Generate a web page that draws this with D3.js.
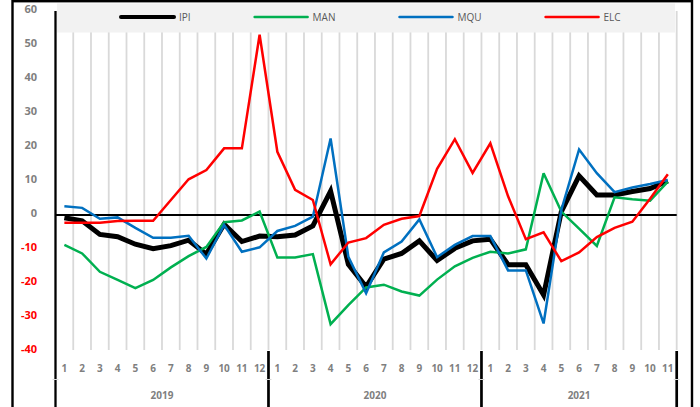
<!DOCTYPE html>
<html>
<head>
<meta charset="utf-8">
<script src="https://cdn.jsdelivr.net/npm/d3@7"></script>
<style>
  body { margin: 0; background: #fff; }
  text { font-family: "Open Sans", "Liberation Sans", sans-serif; }
</style>
</head>
<body>
<div id="chart"></div>
<script>
  // data (monthly change, %)
  const years = ['2019', '2020', '2021'];
  const monthsPerYear = [12, 12, 11];

  const ipi = [-0.8, -1.7, -5.7, -6.4, -8.6, -9.9, -9.0, -7.4, -11.5, -2.7, -7.8, -6.2,
               -6.4, -5.9, -3.2, 7.0, -14.5, -21.1, -13.0, -11.3, -7.6, -13.4, -9.8, -7.6,
               -7.1, -14.6, -14.6, -23.5, 1.0, 11.5, 5.9, 5.9, 6.9, 7.8, 10.0];
  const man = [-8.8, -11.3, -16.7, -19.1, -21.5, -19.1, -15.4, -12.1, -9.4, -2.1, -1.6, 1.0,
               -12.5, -12.5, -11.5, -32.1, -26.5, -21.3, -20.5, -22.5, -23.7, -19.0, -15.1, -12.6,
               -10.8, -11.3, -10.1, 12.3, 1.0, -4.0, -9.1, 5.2, 4.6, 4.2, 9.8];
  const mqu = [2.6, 2.1, -1.1, -0.7, -3.8, -6.7, -6.7, -6.1, -12.8, -2.9, -10.8, -9.5,
               -4.7, -3.2, -0.5, 22.5, -12.3, -23.0, -11.0, -7.8, -1.3, -12.4, -8.8, -6.2,
               -6.2, -16.3, -16.3, -31.9, 1.5, 19.3, 12.3, 6.7, 8.1, 9.1, 10.3];
  const elc = [-2.3, -2.3, -2.3, -1.8, -1.7, -1.7, 4.4, 10.5, 13.2, 19.6, 19.6, 53.0,
               18.6, 7.4, 4.4, -14.5, -8.1, -6.8, -2.9, -1.1, -0.3, 13.6, 22.3, 12.4,
               21.1, 5.5, -7.1, -5.1, -13.6, -11.0, -6.5, -3.8, -2.0, 4.8, 12.0];

  const seriesNames = ['IPI', 'MAN', 'MQU', 'ELC'];
  const yTicks = [60, 50, 40, 30, 20, 10, 0, -10, -20, -30, -40];

  const w = 700;
  const h = 407;

  const plotLeft = 55.5, plotRight = 676.7;
  const plotTop = 11, plotBottom = 351;

  const colors = { IPI: '#000000', MAN: '#00b050', MQU: '#0070c0', ELC: '#ff0000' };
  const widths = { IPI: 5, MAN: 2.5, MQU: 2.5, ELC: 2.5 };
  const values = { IPI: ipi, MAN: man, MQU: mqu, ELC: elc };

  // one entry per month
  const periods = [];
  years.forEach((yr, k) => {
    for (let m = 1; m <= monthsPerYear[k]; m++) periods.push({ year: yr, month: m });
  });

  const x = d3.scaleBand().domain(d3.range(periods.length)).range([plotLeft, plotRight]);
  const y = d3.scaleLinear().domain([-40, 60]).range([plotBottom, plotTop]);
  const cx = i => x(i) + x.bandwidth() / 2;

  const svg = d3.select('#chart')
    .append('svg')
      .attr('width', w)
      .attr('height', h);

  svg.append('rect')
      .attr('width', w)
      .attr('height', h)
      .style('fill', 'white');

  // outer frame
  svg.append('rect')
      .attr('x', 12.5)
      .attr('y', 1.2)
      .attr('width', 679.5)
      .attr('height', h + 20)
      .style('fill', 'none')
      .style('stroke', 'black')
      .style('stroke-width', 2.4);

  // vertical gridlines on category boundaries
  const gridX = d3.range(1, periods.length).map(i => x(i)).concat([plotRight]);
  svg.append('g').selectAll('line')
    .data(gridX)
  .enter().append('line')
      .attr('x1', d => d)
      .attr('x2', d => d)
      .attr('y1', plotTop)
      .attr('y2', plotBottom - 1)
      .style('stroke', '#d9d9d9')
      .style('stroke-width', 1.8);

  // zero line
  svg.append('line')
      .attr('x1', plotLeft)
      .attr('x2', plotRight)
      .attr('y1', y(0))
      .attr('y2', y(0))
      .style('stroke', 'black')
      .style('stroke-width', 2.2);

  // y labels
  svg.append('g').selectAll('text')
    .data(yTicks)
  .enter().append('text')
      .attr('x', 37)
      .attr('y', d => y(d) - 2)
      .attr('dy', '0.35em')
      .attr('text-anchor', 'end')
      .style('font-size', '11px')
      .style('font-weight', 'bold')
      .style('fill', d => d < 0 ? '#ff0000' : '#7f7f7f')
      .text(d => d);

  // left axis line
  svg.append('line')
      .attr('x1', plotLeft)
      .attr('x2', plotLeft)
      .attr('y1', plotTop)
      .attr('y2', h)
      .style('stroke', 'black')
      .style('stroke-width', 2.3);

  // year dividers below the plot
  let start = 0;
  const yearSpans = years.map((yr, k) => {
    const s = { year: yr, x0: x(start), x1: start + monthsPerYear[k] < periods.length ? x(start + monthsPerYear[k]) : plotRight };
    start += monthsPerYear[k];
    return s;
  });

  svg.append('g').selectAll('line')
    .data(yearSpans)
  .enter().append('line')
      .attr('x1', d => d.x1)
      .attr('x2', d => d.x1)
      .attr('y1', plotBottom)
      .attr('y2', h)
      .style('stroke', 'black')
      .style('stroke-width', 2.7);

  // small gray ticks between month and year rows
  svg.append('g').selectAll('line')
    .data([plotLeft].concat(yearSpans.map(d => d.x1)))
  .enter().append('line')
      .attr('x1', d => d - 3)
      .attr('x2', d => d + 3)
      .attr('y1', 379.5)
      .attr('y2', 379.5)
      .style('stroke', '#d9d9d9')
      .style('stroke-width', 1);

  // month labels
  svg.append('g').selectAll('text')
    .data(periods)
  .enter().append('text')
      .attr('x', (d, i) => cx(i))
      .attr('y', 368)
      .attr('dy', '0.35em')
      .attr('text-anchor', 'middle')
      .style('font-size', '10px')
      .style('font-weight', 'bold')
      .style('fill', '#7f7f7f')
      .text(d => d.month);

  // year labels
  svg.append('g').selectAll('text')
    .data(yearSpans)
  .enter().append('text')
      .attr('x', d => (d.x0 + d.x1) / 2)
      .attr('y', 395.5)
      .attr('dy', '0.35em')
      .attr('text-anchor', 'middle')
      .style('font-size', '10px')
      .style('font-weight', 'bold')
      .style('fill', '#7f7f7f')
      .text(d => d.year);

  // series, in legend order (IPI at the bottom)
  const line = d3.line()
      .x((d, i) => cx(i))
      .y(d => y(d));

  svg.append('g').selectAll('path')
    .data(seriesNames)
  .enter().append('path')
      .attr('d', d => line(values[d]))
      .style('fill', 'none')
      .style('stroke', d => colors[d])
      .style('stroke-width', d => widths[d])
      .style('stroke-linejoin', 'miter')
      .style('stroke-miterlimit', 3);

  // legend
  svg.append('rect')
      .attr('x', 57)
      .attr('y', 3.5)
      .attr('width', 618)
      .attr('height', 29)
      .style('fill', '#f2f2f2');

  const legend = svg.append('g');
  let lx = 121;
  seriesNames.forEach(name => {
    legend.append('line')
        .attr('x1', lx)
        .attr('x2', lx + 53)
        .attr('y1', 17)
        .attr('y2', 17)
        .style('stroke', colors[name])
        .style('stroke-width', name === 'IPI' ? 4 : 2.5)
        .style('stroke-linecap', 'round');
    const t = legend.append('text')
        .attr('x', lx + 58)
        .attr('y', 17)
        .attr('dy', '0.35em')
        .style('font-size', '10px')
        .style('fill', '#595959')
        .text(name);
    lx += 58 + t.node().getComputedTextLength() + 64;
  });
</script>
</body>
</html>
